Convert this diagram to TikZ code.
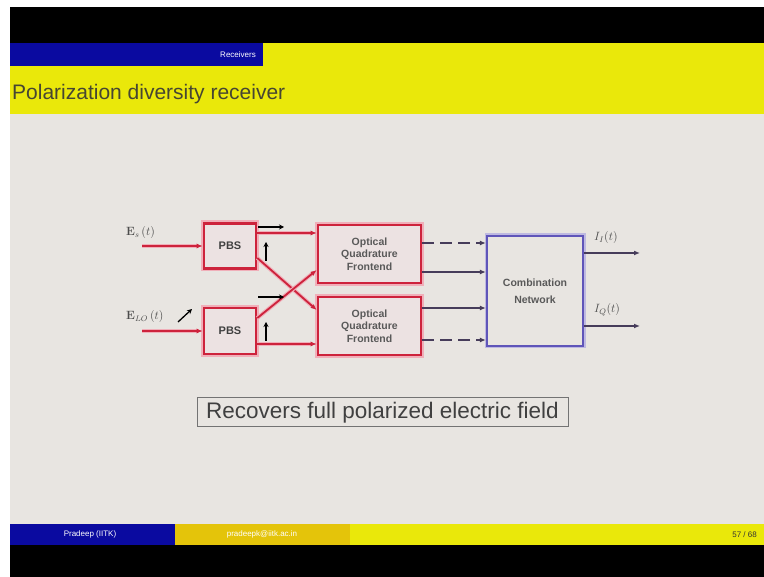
\documentclass[tikz,border=0pt]{standalone}
\usepackage[no-math]{fontspec}
\setmainfont{Liberation Sans}
\usetikzlibrary{arrows.meta}

\definecolor{barblue}{RGB}{10,10,160}
\definecolor{baryellow}{RGB}{234,232,10}
\definecolor{barorange}{RGB}{228,196,10}
\definecolor{slidebg}{RGB}{232,229,225}
\definecolor{titlegray}{RGB}{70,70,50}
\definecolor{boxred}{RGB}{205,35,60}
\definecolor{boxglow}{RGB}{240,175,185}
\definecolor{boxfill}{RGB}{236,226,226}
\definecolor{netblue}{RGB}{95,85,185}
\definecolor{netglow}{RGB}{190,185,225}
\definecolor{wiregray}{RGB}{70,60,90}

\newcommand{\fs}[1]{\fontsize{#1}{#1}\selectfont}

\tikzset{
  redbox/.style={draw=boxred, line width=2.6pt, fill=boxfill,
    preaction={draw=boxglow, line width=6pt},
    align=center, text=black!75, inner sep=0pt},
  netbox/.style={draw=netblue, line width=2.4pt, fill=slidebg,
    preaction={draw=netglow, line width=5pt},
    align=center, text=black!75, inner sep=0pt},
  redwire/.style={draw=boxred, line width=1.8pt,
    preaction={draw=boxglow, line width=4pt},
    -{Latex[length=6pt,width=5pt]}},
  bluewire/.style={draw=wiregray, line width=1.3pt,
    -{Latex[length=6pt,width=5pt]}},
  polarrow/.style={draw=black, line width=1.3pt,
    -{Stealth[length=5pt,width=5pt]}},
  boxtext/.style={font=\fontsize{10.5}{12.5}\selectfont\bfseries, text=black!65},
  lbl/.style={inner sep=0pt, text=black!70, font=\fs{12}},
}

\begin{document}
\begin{tikzpicture}[x=1pt, y=-1pt]
\useasboundingbox (0,0) rectangle (764,577);
\fill[white] (0,0) rectangle (764,577);

% slide frame: header, title bar, body, footer
\fill[black] (10,7) rectangle (764,43);
\fill[barblue] (10,43) rectangle (263,66);
\fill[baryellow] (263,43) rectangle (764,66);
\fill[baryellow] (10,66) rectangle (764,114);
\fill[slidebg] (10,114) rectangle (764,524);
\fill[barblue] (10,524) rectangle (175,545);
\fill[barorange] (175,524) rectangle (350,545);
\fill[baryellow] (350,524) rectangle (764,545);
\fill[black] (10,545) rectangle (764,577);

\node[anchor=east, text=white, font=\fs{8}, inner sep=0pt] (section) at (256,55) {Receivers};
\node[anchor=base west, text=titlegray, font=\fs{21}, inner sep=0pt] (title) at (12,100) {Polarization diversity receiver};

\node[text=white, font=\fs{8}, inner sep=0pt] (author) at (90,534.5) {Pradeep (IITK)};
\node[text=white, font=\fs{8}, inner sep=0pt] (email) at (262,534.5) {pradeepk@iitk.ac.in};
\node[anchor=east, text=black!80, font=\fs{8}, inner sep=0pt] (page) at (757,534.5) {57 / 68};

% beam splitters
\node[redbox, minimum width=52pt, minimum height=45pt, font=\fs{11}\bfseries] (pbs1) at (230,246) {PBS};
\node[redbox, minimum width=52pt, minimum height=46pt, font=\fs{11}\bfseries] (pbs2) at (230,331) {PBS};

% optical frontends
\node[redbox, minimum width=103pt, minimum height=58pt, boxtext] (oqf1) at (369.5,254)
  {Optical\\Quadrature\\Frontend};
\node[redbox, minimum width=103pt, minimum height=58pt, boxtext] (oqf2) at (369.5,326)
  {Optical\\Quadrature\\Frontend};

% combination network
\node[netbox, minimum width=96pt, minimum height=110pt, boxtext] (comb) at (535,291)
  {Combination\\[4pt]Network};

% inputs
\coordinate (in1) at (142,246);
\coordinate (in2) at (142,331);
\draw[redwire] (in1) -- (pbs1.west);
\draw[redwire] (in2) -- (pbs2.west);
\node[lbl, anchor=base west] (es) at (126,236) {$\mathbf{E}_s\,(t)$};
\node[lbl, anchor=base west] (elo) at (126,320) {$\mathbf{E}_{LO}\,(t)$};
\coordinate (lo1) at (178,322);
\coordinate (lo2) at (192,309);
\draw[polarrow] (lo1) -- (lo2);

% splitter outputs
\draw[redwire] ([yshift=13pt]pbs1.east) -- ([yshift=13pt]pbs1.east -| oqf1.west);
\draw[redwire] ([yshift=-12pt]pbs1.east) -- ([yshift=16pt]oqf2.west);
\draw[redwire] ([yshift=13pt]pbs2.east) -- ([yshift=-16pt]oqf1.west);
\draw[redwire] ([yshift=-13pt]pbs2.east) -- ([yshift=-13pt]pbs2.east -| oqf2.west);

% polarization markers
\coordinate (h1a) at (258,227); \coordinate (h1b) at (284,227);
\coordinate (v1a) at (266,261); \coordinate (v1b) at (266,242);
\coordinate (h2a) at (258,297); \coordinate (h2b) at (284,297);
\coordinate (v2a) at (266,341); \coordinate (v2b) at (266,322);
\draw[polarrow] (h1a) -- (h1b);
\draw[polarrow] (v1a) -- (v1b);
\draw[polarrow] (h2a) -- (h2b);
\draw[polarrow] (v2a) -- (v2b);

% frontend outputs
\draw[bluewire, dash pattern=on 12pt off 6pt] ([yshift=11pt]oqf1.east) -- ([yshift=11pt]oqf1.east -| comb.west);
\draw[bluewire] ([yshift=-18pt]oqf1.east) -- ([yshift=-18pt]oqf1.east -| comb.west);
\draw[bluewire] ([yshift=18pt]oqf2.east) -- ([yshift=18pt]oqf2.east -| comb.west);
\draw[bluewire, dash pattern=on 12pt off 6pt] ([yshift=-14pt]oqf2.east) -- ([yshift=-14pt]oqf2.east -| comb.west);

% network outputs
\coordinate (out1) at (640,253);
\coordinate (out2) at (640,326);
\draw[bluewire] (comb.east |- out1) -- (out1);
\draw[bluewire] (comb.east |- out2) -- (out2);
\node[lbl, anchor=base west] (ii) at (594,241) {$I_I(t)$};
\node[lbl, anchor=base west] (iq) at (594,313) {$I_Q(t)$};

% summary box
\node[draw=black!55, line width=1pt, fill=slidebg, minimum width=371pt, minimum height=29pt,
      inner sep=0pt, font=\fs{22.5}, text=black!75] (summary) at (382.5,412.5)
  {Recovers full polarized electric field};
\end{tikzpicture}
\end{document}
